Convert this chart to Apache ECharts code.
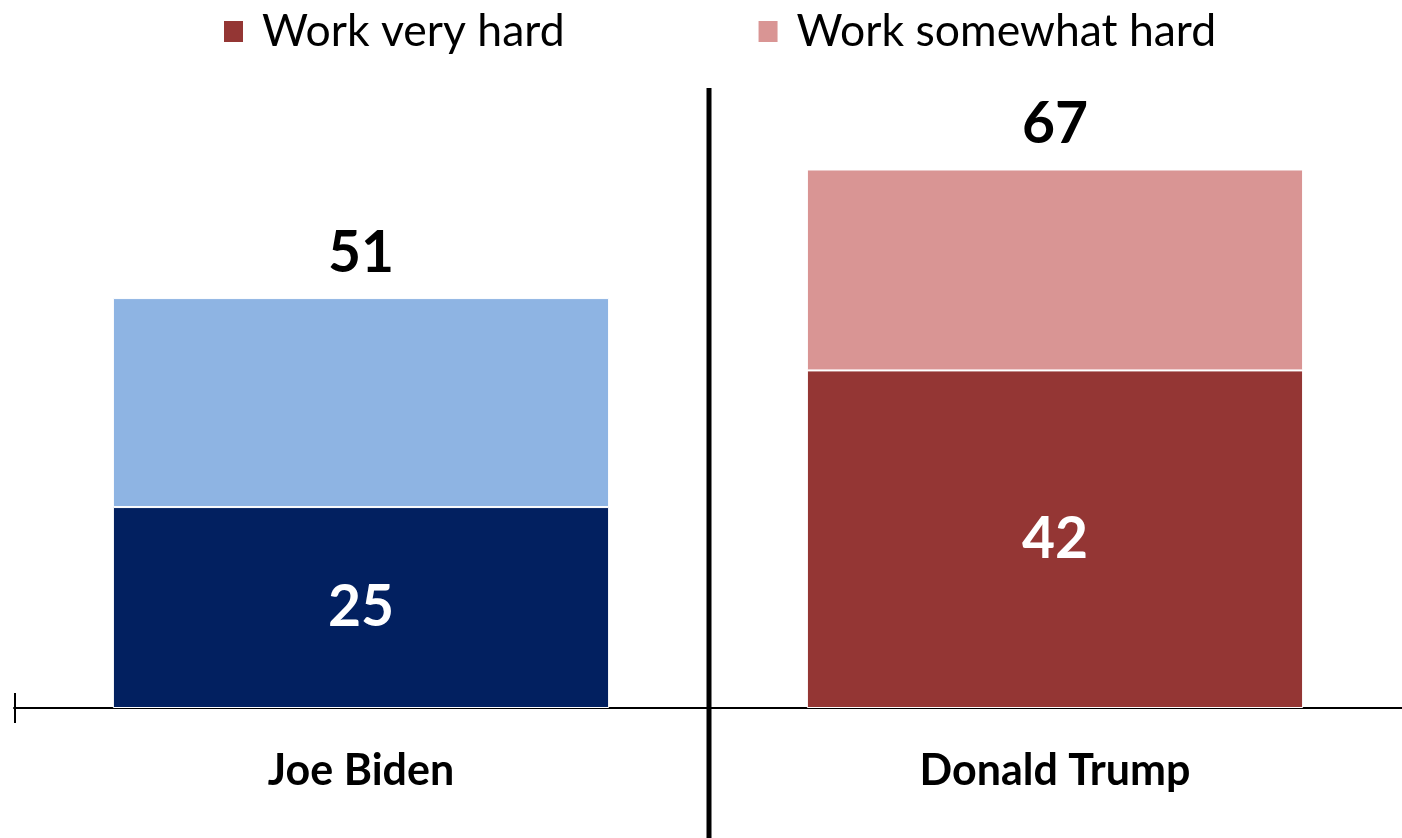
<!DOCTYPE html>
<html><head><meta charset="utf-8">
<script src="https://cdn.jsdelivr.net/npm/echarts@6/dist/echarts.min.js"></script>
<style>html,body{margin:0;padding:0;background:#fff}#c{width:1402px;height:838px}</style>
</head><body><div id="c"></div>
<script>
const categories = ['Joe Biden', 'Donald Trump'];
const veryHard = [25, 42];
const somewhatHard = [26, 25];
const totals = [51, 67];
const seriesNames = ['Work very hard', 'Work somewhat hard'];

const FONT = 'Lato';
const chart = echarts.init(document.getElementById('c'));
const darkCols = ['#022060', '#943634'];
const lightCols = ['#8eb4e3', '#d99594'];
chart.setOption({
  animation: false,
  legend: {
    top: 4, left: 217, itemGap: 192, itemWidth: 21, itemHeight: 23,
    icon: 'rect',
    textStyle: { fontFamily: FONT, fontSize: 44.5, color: '#000', padding: [0, 0, 0, 13] }
  },
  grid: { left: 14, right: 0, top: 65, bottom: 130 },
  xAxis: {
    type: 'category', data: categories,
    axisLine: { lineStyle: { color: '#000', width: 2 } },
    axisTick: { show: false },
    axisLabel: { fontFamily: FONT, fontWeight: 'bold', fontSize: 43, color: '#000', margin: 42 }
  },
  yAxis: { type: 'value', min: 0, max: 80, show: false, splitLine: { show: false } },
  series: [
    {
      name: seriesNames[0], type: 'bar', stack: 't', barWidth: '71.5%',
      color: darkCols[1],
      data: veryHard.map((v, i) => ({ value: v, itemStyle: { color: darkCols[i] } })),
      itemStyle: { borderColor: '#fff', borderWidth: 1 },
      label: { show: true, position: 'inside', color: '#fff', fontFamily: FONT, fontWeight: 'bold', fontSize: 57 }
    },
    {
      name: seriesNames[1], type: 'bar', stack: 't', barWidth: '71.5%',
      color: lightCols[1],
      data: somewhatHard.map((v, i) => ({ value: v, itemStyle: { color: lightCols[i] } })),
      itemStyle: { borderColor: '#fff', borderWidth: 1 },
      label: { show: true, position: 'top', distance: 16, color: '#000', fontFamily: FONT, fontWeight: 'bold', fontSize: 57,
        formatter: p => totals[p.dataIndex] }
    }
  ]
});
const p0 = chart.convertToPixel({ xAxisIndex: 0 }, 0);
const p1 = chart.convertToPixel({ xAxisIndex: 0 }, 1);
const base = chart.convertToPixel({ yAxisIndex: 0 }, 0);
const half = (p1 - p0) / 2;
const sepX = (p0 + p1) / 2 + 1;
const leftX = p0 - half;
chart.setOption({
  graphic: [
    { type: 'line', shape: { x1: sepX, y1: 88, x2: sepX, y2: 838 }, style: { stroke: '#000', lineWidth: 5 }, z: 100 },
    { type: 'line', shape: { x1: leftX + 1, y1: base - 15, x2: leftX + 1, y2: base + 15 }, style: { stroke: '#000', lineWidth: 2 }, z: 100 }
  ]
});
</script></body></html>
